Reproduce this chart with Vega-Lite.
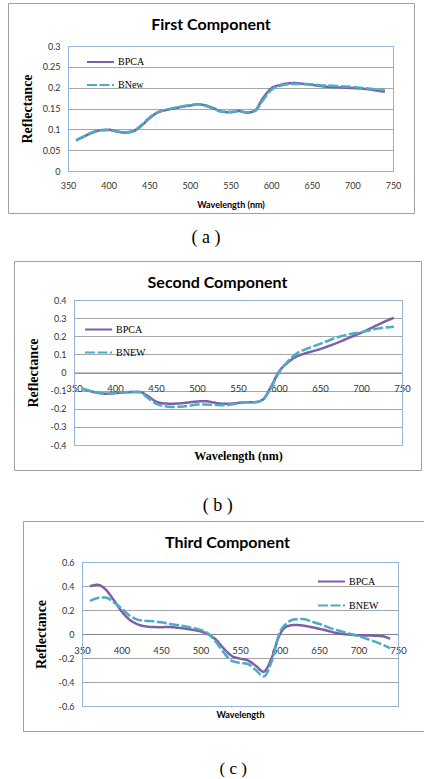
{
  "$schema": "https://vega.github.io/schema/vega-lite/v6.json",
  "background": "white",
  "padding": {"left": 7, "top": 2, "right": 0, "bottom": 0},
  "config": {
    "view": {"stroke": "#a0a0a0", "strokeWidth": 1},
    "locale": {"number": {"decimal": ".", "thousands": ",", "grouping": [3], "currency": ["$", ""], "minus": "-"}},
    "axis": {"labelFont": "Lato", "labelFontSize": 9, "labelColor": "#333333", "labelFlush": false, "labelOverlap": false, "labelBound": false, "ticks": false, "domainColor": "#95b3d7", "domainWidth": 1, "gridColor": "#a6a6a6", "titleColor": "#000000", "titleFontWeight": "bold"}
  },
  "datasets": {
    "p1": [
      {"w":360,"s":"BPCA","v":0.073},{"w":370,"s":"BPCA","v":0.083},{"w":380,"s":"BPCA","v":0.092},{"w":390,"s":"BPCA","v":0.098},{"w":400,"s":"BPCA","v":0.099},{"w":410,"s":"BPCA","v":0.095},{"w":420,"s":"BPCA","v":0.092},{"w":430,"s":"BPCA","v":0.095},{"w":440,"s":"BPCA","v":0.108},{"w":450,"s":"BPCA","v":0.126},{"w":460,"s":"BPCA","v":0.140},{"w":470,"s":"BPCA","v":0.146},{"w":480,"s":"BPCA","v":0.150},{"w":490,"s":"BPCA","v":0.154},{"w":500,"s":"BPCA","v":0.157},{"w":510,"s":"BPCA","v":0.160},{"w":520,"s":"BPCA","v":0.157},{"w":530,"s":"BPCA","v":0.150},{"w":540,"s":"BPCA","v":0.142},{"w":550,"s":"BPCA","v":0.141},{"w":560,"s":"BPCA","v":0.144},{"w":570,"s":"BPCA","v":0.140},{"w":580,"s":"BPCA","v":0.145},{"w":590,"s":"BPCA","v":0.175},{"w":600,"s":"BPCA","v":0.198},{"w":610,"s":"BPCA","v":0.206},{"w":620,"s":"BPCA","v":0.210},{"w":630,"s":"BPCA","v":0.211},{"w":640,"s":"BPCA","v":0.209},{"w":650,"s":"BPCA","v":0.207},{"w":660,"s":"BPCA","v":0.204},{"w":670,"s":"BPCA","v":0.202},{"w":680,"s":"BPCA","v":0.201},{"w":690,"s":"BPCA","v":0.200},{"w":700,"s":"BPCA","v":0.199},{"w":710,"s":"BPCA","v":0.198},{"w":720,"s":"BPCA","v":0.196},{"w":730,"s":"BPCA","v":0.193},{"w":740,"s":"BPCA","v":0.190},
      {"w":360,"s":"BNew","v":0.074},{"w":370,"s":"BNew","v":0.084},{"w":380,"s":"BNew","v":0.093},{"w":390,"s":"BNew","v":0.098},{"w":400,"s":"BNew","v":0.098},{"w":410,"s":"BNew","v":0.095},{"w":420,"s":"BNew","v":0.093},{"w":430,"s":"BNew","v":0.096},{"w":440,"s":"BNew","v":0.110},{"w":450,"s":"BNew","v":0.128},{"w":460,"s":"BNew","v":0.141},{"w":470,"s":"BNew","v":0.147},{"w":480,"s":"BNew","v":0.151},{"w":490,"s":"BNew","v":0.155},{"w":500,"s":"BNew","v":0.158},{"w":510,"s":"BNew","v":0.160},{"w":520,"s":"BNew","v":0.156},{"w":530,"s":"BNew","v":0.149},{"w":540,"s":"BNew","v":0.142},{"w":550,"s":"BNew","v":0.142},{"w":560,"s":"BNew","v":0.144},{"w":570,"s":"BNew","v":0.141},{"w":580,"s":"BNew","v":0.144},{"w":590,"s":"BNew","v":0.170},{"w":600,"s":"BNew","v":0.194},{"w":610,"s":"BNew","v":0.204},{"w":620,"s":"BNew","v":0.208},{"w":630,"s":"BNew","v":0.209},{"w":640,"s":"BNew","v":0.209},{"w":650,"s":"BNew","v":0.208},{"w":660,"s":"BNew","v":0.206},{"w":670,"s":"BNew","v":0.205},{"w":680,"s":"BNew","v":0.204},{"w":690,"s":"BNew","v":0.203},{"w":700,"s":"BNew","v":0.202},{"w":710,"s":"BNew","v":0.200},{"w":720,"s":"BNew","v":0.198},{"w":730,"s":"BNew","v":0.196},{"w":740,"s":"BNew","v":0.194}
    ],
    "p2": [
      {"w":360,"s":"BPCA","v":-0.090},{"w":370,"s":"BPCA","v":-0.103},{"w":380,"s":"BPCA","v":-0.113},{"w":390,"s":"BPCA","v":-0.117},{"w":400,"s":"BPCA","v":-0.114},{"w":410,"s":"BPCA","v":-0.110},{"w":420,"s":"BPCA","v":-0.108},{"w":430,"s":"BPCA","v":-0.107},{"w":440,"s":"BPCA","v":-0.130},{"w":450,"s":"BPCA","v":-0.160},{"w":460,"s":"BPCA","v":-0.171},{"w":470,"s":"BPCA","v":-0.172},{"w":480,"s":"BPCA","v":-0.170},{"w":490,"s":"BPCA","v":-0.165},{"w":500,"s":"BPCA","v":-0.160},{"w":510,"s":"BPCA","v":-0.158},{"w":520,"s":"BPCA","v":-0.165},{"w":530,"s":"BPCA","v":-0.172},{"w":540,"s":"BPCA","v":-0.172},{"w":550,"s":"BPCA","v":-0.168},{"w":560,"s":"BPCA","v":-0.164},{"w":570,"s":"BPCA","v":-0.164},{"w":580,"s":"BPCA","v":-0.150},{"w":590,"s":"BPCA","v":-0.080},{"w":600,"s":"BPCA","v":0.005},{"w":610,"s":"BPCA","v":0.052},{"w":620,"s":"BPCA","v":0.085},{"w":630,"s":"BPCA","v":0.103},{"w":640,"s":"BPCA","v":0.116},{"w":650,"s":"BPCA","v":0.129},{"w":660,"s":"BPCA","v":0.145},{"w":670,"s":"BPCA","v":0.162},{"w":680,"s":"BPCA","v":0.181},{"w":690,"s":"BPCA","v":0.200},{"w":700,"s":"BPCA","v":0.219},{"w":710,"s":"BPCA","v":0.240},{"w":720,"s":"BPCA","v":0.262},{"w":730,"s":"BPCA","v":0.283},{"w":740,"s":"BPCA","v":0.302},
      {"w":360,"s":"BNEW","v":-0.088},{"w":370,"s":"BNEW","v":-0.102},{"w":380,"s":"BNEW","v":-0.112},{"w":390,"s":"BNEW","v":-0.116},{"w":400,"s":"BNEW","v":-0.113},{"w":410,"s":"BNEW","v":-0.109},{"w":420,"s":"BNEW","v":-0.108},{"w":430,"s":"BNEW","v":-0.108},{"w":440,"s":"BNEW","v":-0.140},{"w":450,"s":"BNEW","v":-0.172},{"w":460,"s":"BNEW","v":-0.186},{"w":470,"s":"BNEW","v":-0.190},{"w":480,"s":"BNEW","v":-0.189},{"w":490,"s":"BNEW","v":-0.184},{"w":500,"s":"BNEW","v":-0.177},{"w":510,"s":"BNEW","v":-0.176},{"w":520,"s":"BNEW","v":-0.178},{"w":530,"s":"BNEW","v":-0.181},{"w":540,"s":"BNEW","v":-0.178},{"w":550,"s":"BNEW","v":-0.170},{"w":560,"s":"BNEW","v":-0.164},{"w":570,"s":"BNEW","v":-0.164},{"w":580,"s":"BNEW","v":-0.152},{"w":590,"s":"BNEW","v":-0.085},{"w":600,"s":"BNEW","v":0.000},{"w":610,"s":"BNEW","v":0.058},{"w":620,"s":"BNEW","v":0.100},{"w":630,"s":"BNEW","v":0.124},{"w":640,"s":"BNEW","v":0.141},{"w":650,"s":"BNEW","v":0.158},{"w":660,"s":"BNEW","v":0.175},{"w":670,"s":"BNEW","v":0.193},{"w":680,"s":"BNEW","v":0.205},{"w":690,"s":"BNEW","v":0.215},{"w":700,"s":"BNEW","v":0.222},{"w":710,"s":"BNEW","v":0.232},{"w":720,"s":"BNEW","v":0.242},{"w":730,"s":"BNEW","v":0.248},{"w":740,"s":"BNEW","v":0.252}
    ],
    "p3": [
      {"w":360,"s":"BPCA","v":0.398},{"w":370,"s":"BPCA","v":0.410},{"w":380,"s":"BPCA","v":0.370},{"w":390,"s":"BPCA","v":0.285},{"w":400,"s":"BPCA","v":0.190},{"w":410,"s":"BPCA","v":0.120},{"w":420,"s":"BPCA","v":0.082},{"w":430,"s":"BPCA","v":0.064},{"w":440,"s":"BPCA","v":0.058},{"w":450,"s":"BPCA","v":0.057},{"w":460,"s":"BPCA","v":0.058},{"w":470,"s":"BPCA","v":0.053},{"w":480,"s":"BPCA","v":0.045},{"w":490,"s":"BPCA","v":0.035},{"w":500,"s":"BPCA","v":0.022},{"w":510,"s":"BPCA","v":-0.003},{"w":520,"s":"BPCA","v":-0.050},{"w":530,"s":"BPCA","v":-0.125},{"w":540,"s":"BPCA","v":-0.185},{"w":550,"s":"BPCA","v":-0.205},{"w":560,"s":"BPCA","v":-0.220},{"w":570,"s":"BPCA","v":-0.265},{"w":580,"s":"BPCA","v":-0.315},{"w":590,"s":"BPCA","v":-0.200},{"w":600,"s":"BPCA","v":-0.010},{"w":610,"s":"BPCA","v":0.065},{"w":620,"s":"BPCA","v":0.075},{"w":630,"s":"BPCA","v":0.070},{"w":640,"s":"BPCA","v":0.058},{"w":650,"s":"BPCA","v":0.044},{"w":660,"s":"BPCA","v":0.028},{"w":670,"s":"BPCA","v":0.011},{"w":680,"s":"BPCA","v":0.000},{"w":690,"s":"BPCA","v":-0.006},{"w":700,"s":"BPCA","v":-0.010},{"w":710,"s":"BPCA","v":-0.012},{"w":720,"s":"BPCA","v":-0.014},{"w":730,"s":"BPCA","v":-0.018},{"w":740,"s":"BPCA","v":-0.040},
      {"w":360,"s":"BNEW","v":0.275},{"w":370,"s":"BNEW","v":0.300},{"w":380,"s":"BNEW","v":0.305},{"w":390,"s":"BNEW","v":0.265},{"w":400,"s":"BNEW","v":0.215},{"w":410,"s":"BNEW","v":0.155},{"w":420,"s":"BNEW","v":0.120},{"w":430,"s":"BNEW","v":0.110},{"w":440,"s":"BNEW","v":0.106},{"w":450,"s":"BNEW","v":0.097},{"w":460,"s":"BNEW","v":0.086},{"w":470,"s":"BNEW","v":0.075},{"w":480,"s":"BNEW","v":0.065},{"w":490,"s":"BNEW","v":0.050},{"w":500,"s":"BNEW","v":0.035},{"w":510,"s":"BNEW","v":0.002},{"w":520,"s":"BNEW","v":-0.070},{"w":530,"s":"BNEW","v":-0.160},{"w":540,"s":"BNEW","v":-0.225},{"w":550,"s":"BNEW","v":-0.240},{"w":560,"s":"BNEW","v":-0.250},{"w":570,"s":"BNEW","v":-0.300},{"w":580,"s":"BNEW","v":-0.355},{"w":590,"s":"BNEW","v":-0.230},{"w":600,"s":"BNEW","v":0.010},{"w":610,"s":"BNEW","v":0.095},{"w":620,"s":"BNEW","v":0.122},{"w":630,"s":"BNEW","v":0.125},{"w":640,"s":"BNEW","v":0.105},{"w":650,"s":"BNEW","v":0.085},{"w":660,"s":"BNEW","v":0.060},{"w":670,"s":"BNEW","v":0.036},{"w":680,"s":"BNEW","v":0.020},{"w":690,"s":"BNEW","v":0.000},{"w":700,"s":"BNEW","v":-0.018},{"w":710,"s":"BNEW","v":-0.040},{"w":720,"s":"BNEW","v":-0.062},{"w":730,"s":"BNEW","v":-0.088},{"w":740,"s":"BNEW","v":-0.117}
    ]
  },
  "spacing": 13,
  "resolve": {"scale": {"color": "independent", "strokeDash": "independent"}},
  "vconcat": [
    {
      "title": {"text": "( a )", "orient": "bottom", "anchor": "middle", "offset": 15, "dx": -5, "font": "Liberation Serif", "fontSize": 18, "fontWeight": "normal", "color": "#000000"},
      "vconcat": [
        {
          "width": 406, "height": 210,
          "data": {"name": "p1"},
          "title": {"text": "First Component", "orient": "top", "anchor": "middle", "frame": "group", "offset": -30, "font": "Lato", "fontSize": 16, "fontWeight": "bold", "color": "#000000"},
          "layer": [
            {
              "mark": {"type": "line", "strokeWidth": 2.5, "interpolate": "monotone"},
              "encoding": {
                "x": {"field": "w", "type": "quantitative",
                  "scale": {"domain": [350, 750], "range": [60, 385], "nice": false, "zero": false},
                  "axis": {"orient": "bottom", "offset": -42, "values": [350, 400, 450, 500, 550, 600, 650, 700, 750], "grid": false, "labelPadding": 10, "title": "Wavelength (nm)", "titleFont": "Lato", "titleFontSize": 9, "titlePadding": 10}},
                "y": {"field": "v", "type": "quantitative",
                  "scale": {"domain": [0, 0.3], "range": [168, 43], "nice": false, "zero": false},
                  "axis": {"orient": "left", "offset": -60, "values": [0, 0.05, 0.1, 0.15, 0.2, 0.25, 0.3], "format": ".2~f", "grid": true, "gridColor": {"condition": {"test": "datum.value <= 0 || datum.value >= 0.3", "value": "#95b3d7"}, "value": "#a6a6a6"}, "labelPadding": 8, "title": "Reflectance", "titleFont": "Liberation Serif", "titleFontSize": 14, "titlePadding": 8}},
                "color": {"field": "s", "type": "nominal", "scale": {"domain": ["BPCA", "BNew"], "range": ["#7d5fa6", "#4bacc6"]},
                  "legend": {"orient": "none", "legendX": 78, "legendY": 44.5, "title": null, "symbolType": "stroke", "symbolSize": 729, "symbolStrokeWidth": 2, "labelFont": "Liberation Serif", "labelFontSize": 10, "labelColor": "#000000", "labelOffset": 3, "rowPadding": 3, "padding": 0}},
                "strokeDash": {"field": "s", "type": "nominal", "scale": {"domain": ["BPCA", "BNew"], "range": [[1, 0], [10, 2.5]]},
                  "legend": {"orient": "none", "legendX": 78, "legendY": 44.5, "title": null, "symbolType": "stroke", "symbolSize": 729, "symbolStrokeWidth": 2, "labelFont": "Liberation Serif", "labelFontSize": 10, "labelColor": "#000000", "labelOffset": 3, "rowPadding": 3, "padding": 0}}
              }
            },
            {
              "mark": {"type": "line", "opacity": 0},
              "encoding": {
                "x": {"field": "w", "type": "quantitative", "scale": {"domain": [350, 750], "range": [60, 385], "nice": false, "zero": false},
                  "axis": {"orient": "top", "offset": -43, "labels": false, "grid": false, "title": null}},
                "y": {"field": "v", "type": "quantitative", "scale": {"domain": [0, 0.3], "range": [168, 43], "nice": false, "zero": false},
                  "axis": {"orient": "right", "offset": -21, "labels": false, "grid": false, "title": null}}
              }
            }
          ],
          "resolve": {"axis": {"x": "independent", "y": "independent"}}
        }
      ]
    },
    {
      "spacing": 5,
      "resolve": {"scale": {"color": "independent", "strokeDash": "independent"}},
      "vconcat": [
        {
          "title": {"text": "( b )", "orient": "bottom", "anchor": "middle", "offset": 26, "dx": 3, "font": "Liberation Serif", "fontSize": 18, "fontWeight": "normal", "color": "#000000"},
          "spacing": 0,
          "hconcat": [
            {"width": 5, "height": 1, "view": {"stroke": null, "fill": "#ffffff"}, "data": {"values": []}, "mark": "point"},
            {
              "width": 407, "height": 209,
              "data": {"name": "p2"},
              "title": {"text": "Second Component", "orient": "top", "anchor": "middle", "frame": "group", "offset": -30, "font": "Lato", "fontSize": 16, "fontWeight": "bold", "color": "#000000"},
              "layer": [
                {
                  "mark": {"type": "line", "strokeWidth": 2.5, "interpolate": "monotone"},
                  "encoding": {
                    "x": {"field": "w", "type": "quantitative",
                      "scale": {"domain": [350, 750], "range": [60, 388], "nice": false, "zero": false},
                      "axis": {"orient": "bottom", "offset": -97.5, "values": [350, 400, 450, 500, 550, 600, 650, 700, 750], "grid": false, "labelPadding": 11, "labelFontSize": 9.5, "domainColor": "#868686", "title": null}},
                    "y": {"field": "v", "type": "quantitative",
                      "scale": {"domain": [-0.4, 0.4], "range": [184, 39], "nice": false, "zero": false},
                      "axis": {"orient": "left", "offset": -60, "values": [-0.4, -0.3, -0.2, -0.1, 0, 0.1, 0.2, 0.3, 0.4], "format": ".1~f", "grid": true, "gridColor": {"condition": {"test": "datum.value <= -0.4 || datum.value >= 0.4", "value": "#95b3d7"}, "value": "#a6a6a6"}, "labelPadding": 8, "title": "Reflectance", "titleFont": "Liberation Serif", "titleFontSize": 14, "titlePadding": 10}},
                    "color": {"field": "s", "type": "nominal", "scale": {"domain": ["BPCA", "BNEW"], "range": ["#7d5fa6", "#4bacc6"]},
                      "legend": {"orient": "none", "legendX": 76, "legendY": 54, "title": null, "symbolType": "stroke", "symbolSize": 729, "symbolStrokeWidth": 2, "labelFont": "Liberation Serif", "labelFontSize": 10, "labelColor": "#000000", "labelOffset": 3, "rowPadding": 3, "padding": 0}},
                    "strokeDash": {"field": "s", "type": "nominal", "scale": {"domain": ["BPCA", "BNEW"], "range": [[1, 0], [10, 2.5]]},
                      "legend": {"orient": "none", "legendX": 76, "legendY": 54, "title": null, "symbolType": "stroke", "symbolSize": 729, "symbolStrokeWidth": 2, "labelFont": "Liberation Serif", "labelFontSize": 10, "labelColor": "#000000", "labelOffset": 3, "rowPadding": 3, "padding": 0}}
                  }
                },
                {
                  "mark": {"type": "line", "opacity": 0},
                  "encoding": {
                    "x": {"field": "w", "type": "quantitative", "scale": {"domain": [350, 750], "range": [60, 388], "nice": false, "zero": false},
                      "axis": {"orient": "top", "offset": -39, "labels": false, "grid": false, "title": null}},
                    "y": {"field": "v", "type": "quantitative", "scale": {"domain": [-0.4, 0.4], "range": [184, 39], "nice": false, "zero": false},
                      "axis": {"orient": "right", "offset": -19, "labels": false, "grid": false, "title": null}}
                  }
                },
                {
                  "mark": {"type": "line", "opacity": 0},
                  "encoding": {
                    "x": {"field": "w", "type": "quantitative", "scale": {"domain": [350, 750], "range": [60, 388], "nice": false, "zero": false},
                      "axis": {"orient": "bottom", "offset": -25, "labels": false, "grid": false, "title": "Wavelength (nm)", "titleFont": "Liberation Serif", "titleFontSize": 12, "titlePadding": 5}},
                    "y": {"field": "v", "type": "quantitative", "scale": {"domain": [-0.4, 0.4], "range": [184, 39], "nice": false, "zero": false}, "axis": null}
                  }
                }
              ],
              "resolve": {"axis": {"x": "independent", "y": "independent"}}
            }
          ]
        },
        {
          "title": {"text": "( c )", "orient": "bottom", "anchor": "middle", "offset": 29, "dx": 16, "font": "Liberation Serif", "fontSize": 17, "fontWeight": "normal", "color": "#000000"},
          "spacing": 0,
          "hconcat": [
            {"width": 14, "height": 1, "view": {"stroke": null, "fill": "#ffffff"}, "data": {"values": []}, "mark": "point"},
            {
              "width": 403, "height": 210,
              "data": {"name": "p3"},
              "title": {"text": "Third Component", "orient": "top", "anchor": "middle", "frame": "group", "dx": 3, "offset": -30, "font": "Lato", "fontSize": 16, "fontWeight": "bold", "color": "#000000"},
              "layer": [
                {
                  "mark": {"type": "line", "strokeWidth": 2.5, "interpolate": "monotone"},
                  "encoding": {
                    "x": {"field": "w", "type": "quantitative",
                      "scale": {"domain": [350, 750], "range": [59, 375], "nice": false, "zero": false},
                      "axis": {"orient": "bottom", "offset": -97, "values": [350, 400, 450, 500, 550, 600, 650, 700, 750], "grid": false, "labelPadding": 11, "labelFontSize": 9.5, "domainColor": "#868686", "title": null}},
                    "y": {"field": "v", "type": "quantitative",
                      "scale": {"domain": [-0.6, 0.6], "range": [185, 41], "nice": false, "zero": false},
                      "axis": {"orient": "left", "offset": -59, "values": [-0.6, -0.4, -0.2, 0, 0.2, 0.4, 0.6], "format": ".1~f", "grid": true, "gridColor": {"condition": {"test": "datum.value <= -0.6 || datum.value >= 0.6", "value": "#95b3d7"}, "value": "#a6a6a6"}, "labelPadding": 8, "title": "Reflectance", "titleFont": "Liberation Serif", "titleFontSize": 14, "titlePadding": 10}},
                    "color": {"field": "s", "type": "nominal", "scale": {"domain": ["BPCA", "BNEW"], "range": ["#7d5fa6", "#4bacc6"]},
                      "legend": {"orient": "none", "legendX": 309, "legendY": 46, "title": null, "symbolType": "stroke", "symbolSize": 729, "symbolStrokeWidth": 2, "labelFont": "Liberation Serif", "labelFontSize": 10, "labelColor": "#000000", "labelOffset": 3, "rowPadding": 4, "padding": 0}},
                    "strokeDash": {"field": "s", "type": "nominal", "scale": {"domain": ["BPCA", "BNEW"], "range": [[1, 0], [10, 2.5]]},
                      "legend": {"orient": "none", "legendX": 309, "legendY": 46, "title": null, "symbolType": "stroke", "symbolSize": 729, "symbolStrokeWidth": 2, "labelFont": "Liberation Serif", "labelFontSize": 10, "labelColor": "#000000", "labelOffset": 3, "rowPadding": 4, "padding": 0}}
                  }
                },
                {
                  "mark": {"type": "line", "opacity": 0},
                  "encoding": {
                    "x": {"field": "w", "type": "quantitative", "scale": {"domain": [350, 750], "range": [59, 375], "nice": false, "zero": false},
                      "axis": {"orient": "top", "offset": -41, "labels": false, "grid": false, "title": null}},
                    "y": {"field": "v", "type": "quantitative", "scale": {"domain": [-0.6, 0.6], "range": [185, 41], "nice": false, "zero": false},
                      "axis": {"orient": "right", "offset": -28, "labels": false, "grid": false, "title": null}}
                  }
                },
                {
                  "mark": {"type": "line", "opacity": 0},
                  "encoding": {
                    "x": {"field": "w", "type": "quantitative", "scale": {"domain": [350, 750], "range": [59, 375], "nice": false, "zero": false},
                      "axis": {"orient": "bottom", "offset": -25, "labels": false, "grid": false, "title": "Wavelength", "titleFont": "Lato", "titleFontSize": 9, "titlePadding": 4}},
                    "y": {"field": "v", "type": "quantitative", "scale": {"domain": [-0.6, 0.6], "range": [185, 41], "nice": false, "zero": false}, "axis": null}
                  }
                }
              ],
              "resolve": {"axis": {"x": "independent", "y": "independent"}}
            }
          ]
        }
      ]
    }
  ]
}
